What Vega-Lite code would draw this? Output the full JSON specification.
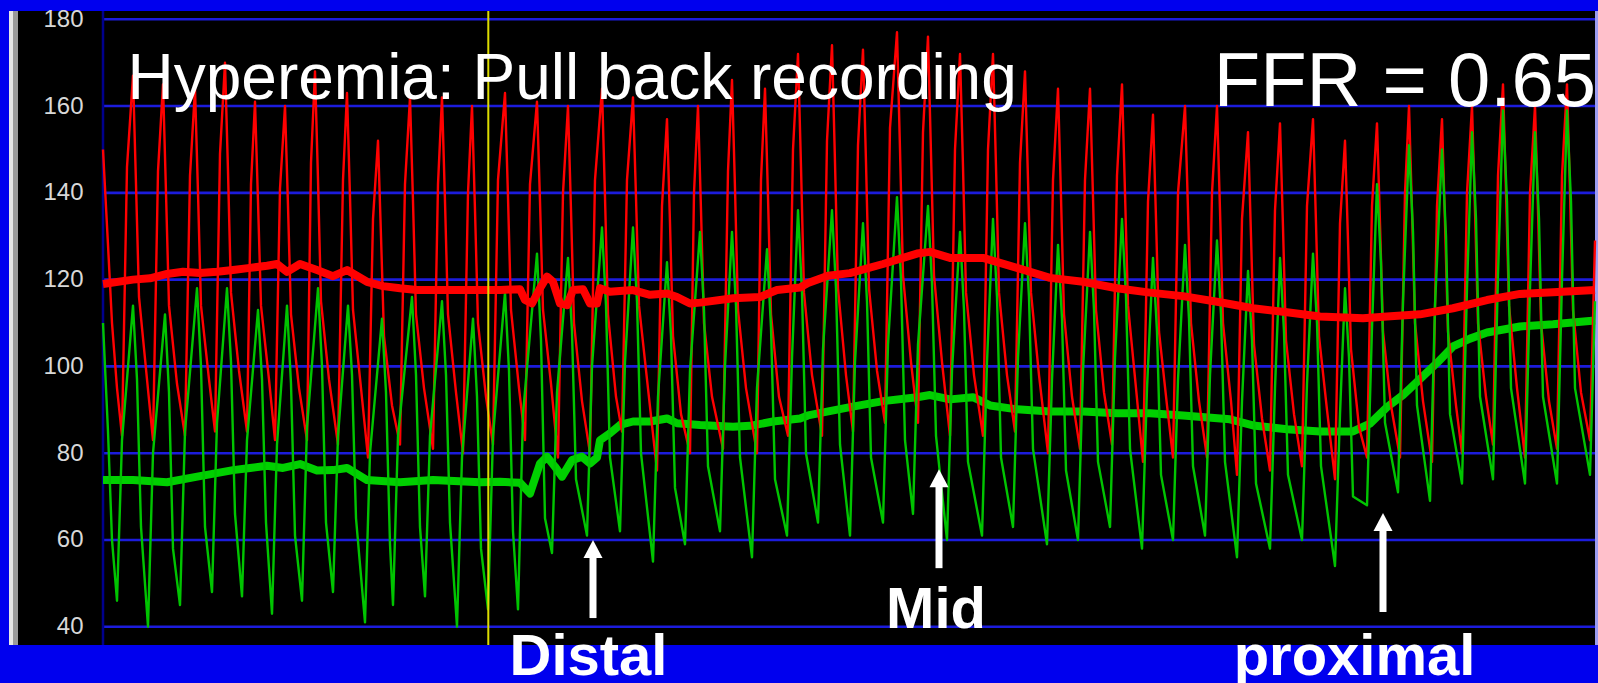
{
"$schema": "https://vega.github.io/schema/vega-lite/v6.json",
"width": 1589, "height": 634,
"autosize": "none",
"padding": {"left": 9, "top": 11, "right": 0, "bottom": 38},
"background": "#0000EE",
"config": {"view": {"fill": "#000000", "stroke": null}},
"datasets": {
"pa": [{"t":3,"v":150},{"t":8,"v":128},{"t":12,"v":110},{"t":17,"v":95},
{"t":22,"v":84},{"t":27,"v":146},{"t":33,"v":167},{"t":36,"v":142},{"t":39,"v":116},{"t":47,"v":97},
{"t":53,"v":83},{"t":58,"v":145},{"t":63,"v":165},{"t":66,"v":140},{"t":69,"v":114},{"t":77,"v":96},
{"t":85,"v":84},{"t":90,"v":144},{"t":95,"v":164},{"t":98,"v":140},{"t":101,"v":114},{"t":109,"v":97},
{"t":115,"v":85},{"t":120,"v":149},{"t":125,"v":170},{"t":128,"v":145},{"t":131,"v":117},{"t":139,"v":99},
{"t":147,"v":85},{"t":151,"v":142},{"t":155,"v":161},{"t":158,"v":138},{"t":161,"v":114},{"t":169,"v":97},
{"t":175,"v":83},{"t":180,"v":141},{"t":185,"v":160},{"t":188,"v":137},{"t":191,"v":112},{"t":199,"v":95},
{"t":207,"v":83},{"t":211,"v":147},{"t":215,"v":168},{"t":218,"v":143},{"t":221,"v":115},{"t":229,"v":97},
{"t":238,"v":82},{"t":243,"v":143},{"t":247,"v":163},{"t":250,"v":139},{"t":253,"v":113},{"t":261,"v":95},
{"t":268,"v":79},{"t":273,"v":134},{"t":278,"v":152},{"t":281,"v":130},{"t":284,"v":107},{"t":292,"v":91},
{"t":300,"v":82},{"t":305,"v":142},{"t":310,"v":162},{"t":313,"v":138},{"t":316,"v":112},{"t":324,"v":95},
{"t":333,"v":81},{"t":338,"v":142},{"t":342,"v":162},{"t":345,"v":138},{"t":348,"v":112},{"t":356,"v":94},
{"t":363,"v":80},{"t":368,"v":140},{"t":372,"v":160},{"t":375,"v":136},{"t":378,"v":110},{"t":386,"v":93},
{"t":393,"v":82},{"t":398,"v":143},{"t":405,"v":163},{"t":408,"v":139},{"t":411,"v":113},{"t":419,"v":95},
{"t":425,"v":83},{"t":430,"v":142},{"t":437,"v":161},{"t":440,"v":138},{"t":443,"v":113},{"t":451,"v":96},
{"t":458,"v":79},{"t":463,"v":140},{"t":468,"v":160},{"t":471,"v":136},{"t":474,"v":110},{"t":482,"v":92},
{"t":490,"v":80},{"t":495,"v":143},{"t":502,"v":164},{"t":505,"v":139},{"t":508,"v":112},{"t":516,"v":93},
{"t":522,"v":85},{"t":527,"v":143},{"t":533,"v":162},{"t":536,"v":139},{"t":539,"v":114},{"t":547,"v":97},
{"t":557,"v":76},{"t":562,"v":137},{"t":567,"v":157},{"t":570,"v":133},{"t":573,"v":107},{"t":581,"v":89},
{"t":590,"v":80},{"t":594,"v":140},{"t":598,"v":160},{"t":601,"v":136},{"t":604,"v":110},{"t":612,"v":93},
{"t":623,"v":81},{"t":628,"v":145},{"t":632,"v":166},{"t":635,"v":141},{"t":638,"v":113},{"t":646,"v":95},
{"t":657,"v":80},{"t":661,"v":143},{"t":665,"v":164},{"t":668,"v":139},{"t":671,"v":112},{"t":679,"v":93},
{"t":688,"v":84},{"t":693,"v":150},{"t":698,"v":172},{"t":701,"v":146},{"t":704,"v":117},{"t":712,"v":98},
{"t":722,"v":84},{"t":727,"v":152},{"t":732,"v":174},{"t":735,"v":147},{"t":738,"v":118},{"t":746,"v":98},
{"t":753,"v":85},{"t":758,"v":151},{"t":763,"v":173},{"t":766,"v":147},{"t":769,"v":118},{"t":777,"v":99},
{"t":785,"v":87},{"t":790,"v":155},{"t":797,"v":177},{"t":800,"v":150},{"t":803,"v":121},{"t":811,"v":101},
{"t":818,"v":87},{"t":823,"v":154},{"t":828,"v":176},{"t":831,"v":149},{"t":834,"v":121},{"t":842,"v":101},
{"t":850,"v":84},{"t":855,"v":150},{"t":860,"v":172},{"t":863,"v":146},{"t":866,"v":117},{"t":874,"v":98},
{"t":883,"v":84},{"t":888,"v":150},{"t":893,"v":172},{"t":896,"v":146},{"t":899,"v":117},{"t":907,"v":98},
{"t":915,"v":85},{"t":920,"v":147},{"t":925,"v":168},{"t":928,"v":143},{"t":931,"v":117},{"t":939,"v":98},
{"t":948,"v":80},{"t":953,"v":143},{"t":958,"v":164},{"t":961,"v":139},{"t":964,"v":112},{"t":972,"v":93},
{"t":980,"v":81},{"t":985,"v":143},{"t":990,"v":164},{"t":993,"v":139},{"t":996,"v":113},{"t":1004,"v":94},
{"t":1012,"v":82},{"t":1017,"v":144},{"t":1022,"v":165},{"t":1025,"v":140},{"t":1028,"v":114},{"t":1036,"v":95},
{"t":1043,"v":78},{"t":1048,"v":138},{"t":1053,"v":158},{"t":1056,"v":134},{"t":1059,"v":108},{"t":1067,"v":91},
{"t":1073,"v":79},{"t":1078,"v":140},{"t":1085,"v":160},{"t":1088,"v":136},{"t":1091,"v":110},{"t":1099,"v":92},
{"t":1107,"v":79},{"t":1112,"v":140},{"t":1117,"v":160},{"t":1120,"v":136},{"t":1123,"v":110},{"t":1131,"v":92},
{"t":1137,"v":75},{"t":1142,"v":134},{"t":1148,"v":154},{"t":1151,"v":130},{"t":1154,"v":105},{"t":1162,"v":88},
{"t":1170,"v":76},{"t":1175,"v":136},{"t":1180,"v":156},{"t":1183,"v":132},{"t":1186,"v":106},{"t":1194,"v":89},
{"t":1202,"v":77},{"t":1207,"v":137},{"t":1213,"v":157},{"t":1216,"v":133},{"t":1219,"v":107},{"t":1227,"v":90},
{"t":1235,"v":74},{"t":1240,"v":133},{"t":1245,"v":152},{"t":1248,"v":129},{"t":1251,"v":104},{"t":1259,"v":86},
{"t":1267,"v":79},{"t":1272,"v":137},{"t":1277,"v":156},{"t":1280,"v":133},{"t":1283,"v":108},{"t":1291,"v":91},
{"t":1300,"v":79},{"t":1305,"v":140},{"t":1309,"v":160},{"t":1312,"v":136},{"t":1315,"v":110},{"t":1323,"v":92},
{"t":1332,"v":78},{"t":1337,"v":137},{"t":1342,"v":157},{"t":1345,"v":133},{"t":1348,"v":108},{"t":1356,"v":91},
{"t":1362,"v":80},{"t":1367,"v":140},{"t":1372,"v":160},{"t":1375,"v":136},{"t":1378,"v":110},{"t":1386,"v":93},
{"t":1393,"v":82},{"t":1398,"v":144},{"t":1403,"v":165},{"t":1406,"v":140},{"t":1409,"v":114},{"t":1417,"v":95},
{"t":1425,"v":79},{"t":1430,"v":140},{"t":1435,"v":160},{"t":1438,"v":136},{"t":1441,"v":110},{"t":1449,"v":92},
{"t":1457,"v":81},{"t":1462,"v":144},{"t":1467,"v":165},{"t":1470,"v":140},{"t":1473,"v":113},{"t":1481,"v":94},
{"t":1490,"v":83},{"t":1495,"v":129}],
"pd": [{"t":3,"v":110},{"t":8,"v":85},{"t":12,"v":60},
{"t":17,"v":46},{"t":22,"v":83},{"t":33,"v":114},{"t":37,"v":97},{"t":41,"v":63},
{"t":48,"v":40},{"t":53,"v":80},{"t":65,"v":112},{"t":69,"v":94},{"t":73,"v":58},
{"t":80,"v":45},{"t":85,"v":85},{"t":97,"v":118},{"t":101,"v":100},{"t":105,"v":63},
{"t":112,"v":48},{"t":117,"v":87},{"t":127,"v":118},{"t":131,"v":101},{"t":135,"v":66},
{"t":142,"v":47},{"t":147,"v":83},{"t":158,"v":113},{"t":162,"v":97},{"t":166,"v":64},
{"t":172,"v":43},{"t":177,"v":82},{"t":187,"v":114},{"t":191,"v":96},{"t":195,"v":61},
{"t":202,"v":46},{"t":207,"v":86},{"t":218,"v":118},{"t":222,"v":100},{"t":226,"v":64},
{"t":233,"v":48},{"t":238,"v":84},{"t":248,"v":114},{"t":252,"v":98},{"t":256,"v":65},
{"t":265,"v":41},{"t":270,"v":80},{"t":282,"v":111},{"t":286,"v":94},{"t":290,"v":59},
{"t":293,"v":45},{"t":298,"v":84},{"t":312,"v":116},{"t":316,"v":98},{"t":320,"v":63},
{"t":325,"v":47},{"t":330,"v":84},{"t":342,"v":115},{"t":346,"v":98},{"t":350,"v":64},
{"t":357,"v":40},{"t":362,"v":79},{"t":373,"v":111},{"t":377,"v":93},{"t":381,"v":58},
{"t":388,"v":44},{"t":393,"v":84},{"t":405,"v":117},{"t":409,"v":99},{"t":413,"v":62},
{"t":418,"v":44},{"t":423,"v":89},{"t":437,"v":126},{"t":441,"v":106},{"t":445,"v":65},
{"t":452,"v":57},{"t":457,"v":94},{"t":468,"v":125},{"t":472,"v":108},{"t":476,"v":74},
{"t":487,"v":61},{"t":492,"v":100},{"t":502,"v":132},{"t":506,"v":114},{"t":510,"v":79},
{"t":520,"v":62},{"t":525,"v":101},{"t":533,"v":132},{"t":537,"v":115},{"t":541,"v":80},
{"t":553,"v":55},{"t":558,"v":93},{"t":567,"v":124},{"t":571,"v":107},{"t":575,"v":72},
{"t":585,"v":59},{"t":590,"v":99},{"t":600,"v":131},{"t":604,"v":113},{"t":608,"v":77},
{"t":620,"v":62},{"t":625,"v":100},{"t":632,"v":131},{"t":636,"v":114},{"t":640,"v":79},
{"t":652,"v":56},{"t":657,"v":95},{"t":667,"v":127},{"t":671,"v":109},{"t":675,"v":74},
{"t":687,"v":61},{"t":692,"v":102},{"t":698,"v":136},{"t":702,"v":117},{"t":706,"v":80},
{"t":718,"v":64},{"t":723,"v":104},{"t":732,"v":136},{"t":736,"v":118},{"t":740,"v":82},
{"t":750,"v":61},{"t":755,"v":101},{"t":763,"v":133},{"t":767,"v":115},{"t":771,"v":79},
{"t":783,"v":64},{"t":788,"v":105},{"t":797,"v":139},{"t":801,"v":120},{"t":805,"v":83},
{"t":813,"v":66},{"t":818,"v":105},{"t":828,"v":137},{"t":832,"v":119},{"t":836,"v":84},
{"t":847,"v":60},{"t":852,"v":99},{"t":860,"v":131},{"t":864,"v":113},{"t":868,"v":78},
{"t":882,"v":61},{"t":887,"v":101},{"t":893,"v":134},{"t":897,"v":116},{"t":901,"v":79},
{"t":913,"v":63},{"t":918,"v":102},{"t":925,"v":133},{"t":929,"v":116},{"t":933,"v":81},
{"t":947,"v":59},{"t":952,"v":97},{"t":958,"v":128},{"t":962,"v":111},{"t":966,"v":76},
{"t":978,"v":60},{"t":983,"v":99},{"t":990,"v":131},{"t":994,"v":113},{"t":998,"v":78},
{"t":1010,"v":63},{"t":1015,"v":102},{"t":1022,"v":134},{"t":1026,"v":116},{"t":1030,"v":81},
{"t":1042,"v":58},{"t":1047,"v":95},{"t":1053,"v":125},{"t":1057,"v":108},{"t":1061,"v":75},
{"t":1073,"v":60},{"t":1078,"v":97},{"t":1085,"v":128},{"t":1089,"v":111},{"t":1093,"v":77},
{"t":1105,"v":61},{"t":1110,"v":98},{"t":1117,"v":129},{"t":1121,"v":112},{"t":1125,"v":78},
{"t":1137,"v":56},{"t":1142,"v":92},{"t":1148,"v":122},{"t":1152,"v":106},{"t":1156,"v":73},
{"t":1170,"v":58},{"t":1175,"v":95},{"t":1180,"v":125},{"t":1184,"v":108},{"t":1188,"v":75},
{"t":1202,"v":60},{"t":1207,"v":96},{"t":1213,"v":126},{"t":1217,"v":110},{"t":1221,"v":77},
{"t":1235,"v":54},{"t":1240,"v":89},{"t":1245,"v":118},{"t":1249,"v":102},{"t":1253,"v":70},
{"t":1267,"v":68},{"t":1272,"v":109},{"t":1277,"v":142},{"t":1281,"v":124},{"t":1285,"v":87},
{"t":1298,"v":71},{"t":1303,"v":115},{"t":1309,"v":151},{"t":1313,"v":131},{"t":1317,"v":91},
{"t":1330,"v":69},{"t":1335,"v":114},{"t":1342,"v":150},{"t":1346,"v":130},{"t":1350,"v":89},
{"t":1362,"v":73},{"t":1367,"v":118},{"t":1372,"v":154},{"t":1376,"v":134},{"t":1380,"v":93},
{"t":1393,"v":74},{"t":1398,"v":121},{"t":1403,"v":159},{"t":1407,"v":138},{"t":1411,"v":95},
{"t":1425,"v":73},{"t":1430,"v":118},{"t":1435,"v":154},{"t":1439,"v":134},{"t":1443,"v":93},
{"t":1457,"v":73},{"t":1462,"v":120},{"t":1467,"v":159},{"t":1471,"v":138},{"t":1475,"v":95},
{"t":1490,"v":75},{"t":1495,"v":115}],
"pam": [{"t":3,"v":119},{"t":33,"v":120},{"t":50,"v":120.3},{"t":67,"v":121.3},{"t":83,"v":121.8},{"t":100,"v":121.5},{"t":117,"v":121.8},{"t":133,"v":122.2},{"t":150,"v":122.7},{"t":167,"v":123.2},{"t":177,"v":123.6},{"t":187,"v":121.8},{"t":200,"v":123.6},{"t":217,"v":122.2},{"t":233,"v":120.8},{"t":247,"v":122.2},{"t":267,"v":119.5},{"t":283,"v":118.5},{"t":300,"v":118},{"t":317,"v":117.6},{"t":350,"v":117.6},{"t":400,"v":117.6},{"t":420,"v":117.8},{"t":425,"v":115.3},{"t":432,"v":114.5},{"t":440,"v":118},{"t":447,"v":120.7},{"t":453,"v":119.5},{"t":460,"v":114.5},{"t":467,"v":114.1},{"t":473,"v":117.6},{"t":483,"v":117.8},{"t":490,"v":114.5},{"t":497,"v":114.5},{"t":500,"v":118},{"t":510,"v":117.2},{"t":533,"v":117.6},{"t":550,"v":116.5},{"t":567,"v":116.8},{"t":577,"v":116},{"t":590,"v":114.5},{"t":600,"v":114.7},{"t":633,"v":115.7},{"t":660,"v":116},{"t":677,"v":117.6},{"t":700,"v":118.2},{"t":708,"v":119.2},{"t":728,"v":120.9},{"t":750,"v":121.5},{"t":783,"v":123.6},{"t":817,"v":126},{"t":830,"v":126.4},{"t":850,"v":125},{"t":883,"v":125},{"t":917,"v":122.7},{"t":950,"v":120.4},{"t":983,"v":119.5},{"t":1017,"v":118},{"t":1050,"v":117},{"t":1083,"v":116.2},{"t":1120,"v":114.8},{"t":1153,"v":113.4},{"t":1187,"v":112.5},{"t":1220,"v":111.5},{"t":1263,"v":111.1},{"t":1287,"v":111.5},{"t":1320,"v":112},{"t":1353,"v":113.4},{"t":1387,"v":115.3},{"t":1420,"v":116.7},{"t":1453,"v":117.1},{"t":1495,"v":117.6}],
"pdm": [{"t":3,"v":73.8},{"t":33,"v":73.8},{"t":67,"v":73.3},{"t":100,"v":74.7},{"t":133,"v":76.1},{"t":150,"v":76.6},{"t":167,"v":77.1},{"t":183,"v":76.6},{"t":200,"v":77.5},{"t":217,"v":76},{"t":233,"v":76.1},{"t":247,"v":76.6},{"t":267,"v":73.8},{"t":300,"v":73.3},{"t":333,"v":73.8},{"t":380,"v":73.3},{"t":400,"v":73.4},{"t":420,"v":73.2},{"t":430,"v":70.7},{"t":440,"v":77.6},{"t":447,"v":79.2},{"t":455,"v":76.9},{"t":462,"v":74.6},{"t":472,"v":78.4},{"t":482,"v":79.2},{"t":490,"v":77.6},{"t":497,"v":79},{"t":500,"v":83},{"t":510,"v":84.6},{"t":520,"v":86.5},{"t":533,"v":87.3},{"t":550,"v":87.3},{"t":567,"v":88},{"t":577,"v":86.9},{"t":600,"v":86.5},{"t":633,"v":86.1},{"t":650,"v":86.3},{"t":673,"v":87.3},{"t":700,"v":88},{"t":708,"v":88.7},{"t":750,"v":90.6},{"t":783,"v":92},{"t":817,"v":92.9},{"t":830,"v":93.4},{"t":850,"v":92.4},{"t":873,"v":92.9},{"t":890,"v":91},{"t":917,"v":90.1},{"t":950,"v":89.6},{"t":983,"v":89.6},{"t":1017,"v":89.2},{"t":1050,"v":89.2},{"t":1083,"v":88.7},{"t":1130,"v":87.8},{"t":1153,"v":86.4},{"t":1187,"v":85.5},{"t":1220,"v":85},{"t":1253,"v":85},{"t":1270,"v":86.8},{"t":1287,"v":90.6},{"t":1303,"v":93.4},{"t":1320,"v":97.1},{"t":1337,"v":100.8},{"t":1353,"v":104.6},{"t":1370,"v":106.4},{"t":1387,"v":107.8},{"t":1420,"v":109.2},{"t":1453,"v":109.7},{"t":1495,"v":110.6}]
},
"encoding": {
"x": {"field": "t", "type": "quantitative", "scale": {"domain": [-91, 1498], "nice": false, "zero": false}, "axis": null},
"y": {"field": "v", "type": "quantitative", "scale": {"domain": [35.79, 181.91], "nice": false, "zero": false},
 "axis": {"values": [40, 60, 80, 100, 120, 140, 160, 180], "orient": "left", "offset": -74, "domain": false, "ticks": false, "grid": false, "labelPadding": 0, "labelColor": "#D8D8D8", "labelFont": "Liberation Sans", "labelFontSize": 24, "labelBaseline": "middle", "labelFlush": false, "labelOverlap": false, "title": null}}
},
"layer": [
{"data": {"values": [{"t": -89, "v": 35.79, "v2": 181.91}]}, "mark": {"type": "rule", "color": "#E6E6E6", "strokeWidth": 4}, "encoding": {"y2": {"field": "v2"}}},
{"data": {"values": [{"t": -84.5, "v": 35.79, "v2": 181.91}]}, "mark": {"type": "rule", "color": "#9A9A9A", "strokeWidth": 5}, "encoding": {"y2": {"field": "v2"}}},
{"data": {"values": [{"t": 3, "t2": 1495, "v": 40}, {"t": 3, "t2": 1495, "v": 60}, {"t": 3, "t2": 1495, "v": 80}, {"t": 3, "t2": 1495, "v": 100}, {"t": 3, "t2": 1495, "v": 120}, {"t": 3, "t2": 1495, "v": 140}, {"t": 3, "t2": 1495, "v": 160}, {"t": 3, "t2": 1495, "v": 180}]}, "mark": {"type": "rule", "color": "#1C1CDC", "strokeWidth": 2.6}, "encoding": {"x2": {"field": "t2"}}},
{"data": {"values": [{"t": 3, "v": 35.79, "v2": 181.91}]}, "mark": {"type": "rule", "color": "#00008C", "strokeWidth": 2.5}, "encoding": {"y2": {"field": "v2"}}},
{"data": {"values": [{"t": 1496.5, "v": 35.79, "v2": 181.91}]}, "mark": {"type": "rule", "color": "#9C9CF0", "strokeWidth": 3}, "encoding": {"y2": {"field": "v2"}}},
{"data": {"name": "pdm"}, "mark": {"type": "line", "color": "#00D000", "strokeWidth": 8, "strokeJoin": "round"}, "encoding": {}},
{"data": {"name": "pa"}, "mark": {"type": "line", "color": "#FF0000", "strokeWidth": 2.4, "strokeJoin": "round"}, "encoding": {}},
{"data": {"name": "pd"}, "mark": {"type": "line", "color": "#00C400", "strokeWidth": 2.4, "strokeJoin": "round"}, "encoding": {}},
{"data": {"name": "pam"}, "mark": {"type": "line", "color": "#FF0000", "strokeWidth": 8, "strokeJoin": "round"}, "encoding": {}},
{"data": {"values": [{"t": 388.3, "v": 35.79, "v2": 181.91}]}, "mark": {"type": "rule", "color": "#DCDC00", "strokeWidth": 2}, "encoding": {"y2": {"field": "v2"}}},
{"data": {"values": [{"t": 493, "v": 42.0, "v2": 57}, {"t": 839, "v": 53.5, "v2": 73.5}, {"t": 1283, "v": 43.4, "v2": 63.4}]}, "mark": {"type": "rule", "color": "#FFFFFF", "strokeWidth": 7}, "encoding": {"y2": {"field": "v2"}}},
{"data": {"values": [{"t": 493, "v": 60.0}, {"t": 839, "v": 76.3}, {"t": 1283, "v": 66.2}]}, "mark": {"type": "point", "shape": "M0,0L1,1.9L-1,1.9Z", "filled": true, "color": "#FFFFFF", "opacity": 1, "size": 361, "strokeWidth": 0}, "encoding": {}},
{"data": {"values": [{"t": 27.5, "v": 161.6, "label": "Hyperemia: Pull back recording"}]}, "mark": {"type": "text", "color": "#FFFFFF", "font": "Liberation Sans", "fontSize": 64, "align": "left", "baseline": "alphabetic"}, "encoding": {"text": {"field": "label"}}},
{"data": {"values": [{"t": 1496, "v": 160.0, "label": "FFR = 0.65"}]}, "mark": {"type": "text", "color": "#FFFFFF", "font": "Liberation Sans", "fontSize": 76, "align": "right", "baseline": "alphabetic"}, "encoding": {"text": {"field": "label"}}},
{"data": {"values": [{"t": 488.5, "v": 28.9, "label": "Distal"}, {"t": 836, "v": 39.8, "label": "Mid"}, {"t": 1254.5, "v": 28.9, "label": "proximal"}]}, "mark": {"type": "text", "color": "#FFFFFF", "font": "Liberation Sans", "fontWeight": "bold", "fontSize": 58, "align": "center", "baseline": "alphabetic"}, "encoding": {"text": {"field": "label"}}}
]
}
